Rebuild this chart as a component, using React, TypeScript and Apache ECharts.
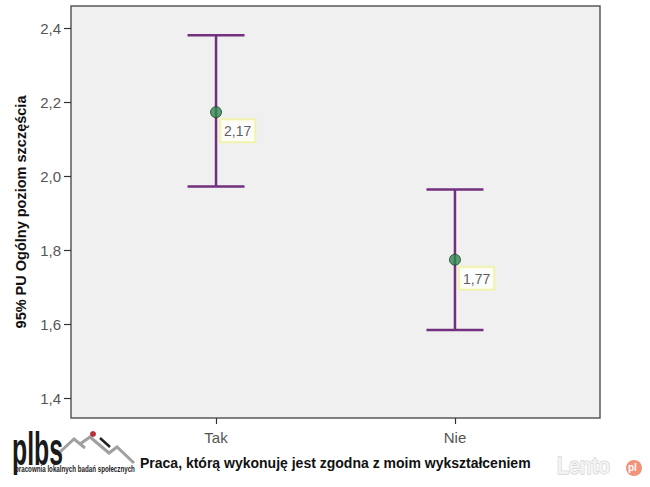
import React, { useEffect, useRef } from "react";
import * as echarts from "echarts";

const categories = ["Tak", "Nie"];
const means = [2.173, 1.774];
const lowerCI = [1.972, 1.584];
const upperCI = [2.381, 1.964];
const meanLabels = ["2,17", "1,77"];
const yTicks = [1.4, 1.6, 1.8, 2.0, 2.2, 2.4];
const yAxisTitle = "95% PU Ogólny poziom szczęścia";
const xAxisTitle = "Praca, którą wykonuję jest zgodna z moim wykształceniem";

const PURPLE = "#72307f";

export default function App() {
  const ref = useRef<HTMLDivElement>(null);
  useEffect(() => {
    document.body.style.margin = "0";
    const chart = echarts.init(ref.current!, null, { renderer: "svg" });
    const errData = categories.map((_, i) => [i + 1, lowerCI[i], upperCI[i]]);
    const meanData = categories.map((_, i) => ({ value: [i + 1, means[i]], label: { formatter: meanLabels[i] } }));
    chart.setOption({
      animation: false,
      backgroundColor: "#ffffff",
      grid: {
        left: 71,
        top: 6,
        width: 529,
        height: 412,
        show: true,
        backgroundColor: "#f0f0f0",
        borderColor: "#5a5a5a",
        borderWidth: 1.5,
      },
      xAxis: {
        type: "value",
        min: 0.393,
        max: 2.607,
        axisLine: { show: false },
        splitLine: { show: false },
        axisTick: { show: true, length: 6, customValues: [1, 2], lineStyle: { color: "#333", width: 1.2 } },
        axisLabel: {
          customValues: [1, 2],
          formatter: (v: number) => categories[Math.round(v) - 1] ?? "",
          fontSize: 15,
          color: "#555",
          fontFamily: "Liberation Sans, Arial, sans-serif",
          margin: 12,
        },
      },
      yAxis: {
        type: "value",
        min: 1.346,
        max: 2.46,
        axisLine: { show: false },
        splitLine: { show: false },
        axisTick: { show: true, length: 7, customValues: yTicks, lineStyle: { color: "#333", width: 1.2 } },
        axisLabel: {
          customValues: yTicks,
          formatter: (v: number) => v.toFixed(1).replace(".", ","),
          fontSize: 15,
          color: "#555",
          fontFamily: "Liberation Sans, Arial, sans-serif",
          margin: 10,
        },
        name: yAxisTitle,
        nameLocation: "middle",
        nameGap: 43,
        nameTextStyle: {
          fontSize: 14.5,
          fontWeight: "bold",
          color: "#111",
          fontFamily: "Liberation Sans, Arial, sans-serif",
        },
      },
      series: [
        {
          type: "custom",
          data: errData,
          renderItem: (params: any, api: any) => {
            const x = api.value(0);
            const top = api.coord([x, api.value(2)]);
            const bot = api.coord([x, api.value(1)]);
            const hw = 28.5;
            const style = { stroke: PURPLE, lineWidth: 2.5 };
            return {
              type: "group",
              children: [
                { type: "line", shape: { x1: top[0], y1: top[1], x2: bot[0], y2: bot[1] }, style },
                { type: "line", shape: { x1: top[0] - hw, y1: top[1], x2: top[0] + hw, y2: top[1] }, style },
                { type: "line", shape: { x1: bot[0] - hw, y1: bot[1], x2: bot[0] + hw, y2: bot[1] }, style },
              ],
            };
          },
          z: 2,
        },
        {
          type: "scatter",
          data: meanData,
          symbol: "circle",
          symbolSize: 11,
          itemStyle: { color: "#2e8a50", borderColor: "#1d3d28", borderWidth: 1 },
          z: 3,
          label: {
            show: true,
            position: [11, 14],
            fontSize: 14,
            color: "#333",
            fontFamily: "Liberation Sans, Arial, sans-serif",
            backgroundColor: "#ffffff",
            borderColor: "#f3f3a0",
            borderWidth: 2,
            padding: [4, 3, 3, 3],
          },
        },
      ],
      graphic: [
        {
          type: "text",
          left: 140,
          top: 456,
          style: {
            text: xAxisTitle,
            fontSize: 14,
            fontWeight: "bold",
            fill: "#111",
            fontFamily: "Liberation Sans, Arial, sans-serif",
          },
        },
        {
          type: "text",
          x: 12,
          y: 426,
          scaleX: 0.54,
          style: {
            text: "plbs",
            fontSize: 46,
            fontWeight: "bold",
            fill: "#1a1a1a",
            fontFamily: "Liberation Sans Narrow, Liberation Sans, Arial, sans-serif",
          },
        },
        {
          type: "polyline",
          shape: { points: [[60, 452], [74, 439], [85, 448]] },
          style: { stroke: "#a0a0a0", lineWidth: 3, fill: "none" },
        },
        {
          type: "polyline",
          shape: { points: [[80, 444], [90, 437], [109, 453], [117, 447], [134, 463]] },
          style: { stroke: "#a0a0a0", lineWidth: 3, fill: "none" },
        },
        {
          type: "line",
          shape: { x1: 100, y1: 438, x2: 110, y2: 447 },
          style: { stroke: "#222", lineWidth: 2.5 },
        },
        {
          type: "circle",
          shape: { cx: 93, cy: 434, r: 3 },
          style: { fill: "#b8303c" },
        },
        {
          type: "text",
          x: 15,
          y: 465,
          scaleX: 0.69,
          style: {
            text: "pracownia lokalnych badań społecznych",
            fontSize: 9,
            fontWeight: "bold",
            fill: "#222",
            fontFamily: "Liberation Sans Narrow, Liberation Sans, Arial, sans-serif",
          },
        },
        {
          type: "text",
          x: 557,
          y: 455,
          scaleX: 0.85,
          style: {
            text: "Lento",
            fontSize: 23,
            fontWeight: "bold",
            fill: "#f3f3f3",
            stroke: "#c4c4c4",
            lineWidth: 1,
            fontFamily: "Liberation Sans Narrow, Liberation Sans, Arial, sans-serif",
          },
        },
        {
          type: "circle",
          shape: { cx: 634, cy: 468, r: 8 },
          style: { fill: "#ee8060", opacity: 0.85 },
        },
        {
          type: "text",
          x: 628,
          y: 462,
          style: { text: "pl", fontSize: 10, fontWeight: "bold", fill: "#ffffff", fontFamily: "Liberation Sans, Arial, sans-serif" },
        },
      ],
    });
    return () => chart.dispose();
  }, []);
  return <div ref={ref} style={{ width: 650, height: 487 }} />;
}
